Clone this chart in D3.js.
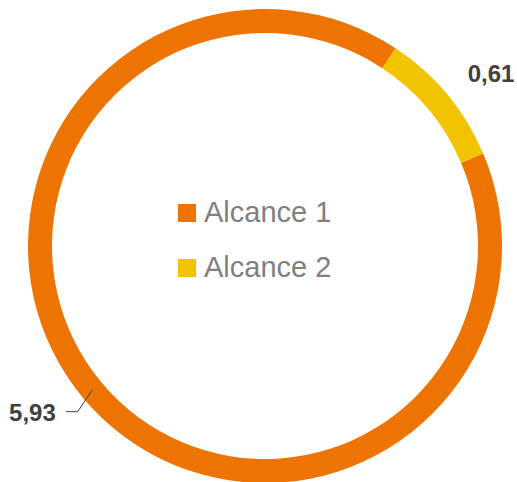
<!DOCTYPE html>
<html>
<head>
<meta charset="utf-8">
<script src="https://cdn.jsdelivr.net/npm/d3@7"></script>
<style>
  body { margin: 0; background: #fff; }
  svg { display: block; }
</style>
</head>
<body>
<div class="chart"></div>
<script>
const categories = ["Alcance 1", "Alcance 2"];
const values = [5.93, 0.61];
const labels = ["5,93", "0,61"];
const colors = ["#EE7402", "#F2C300"];

const width = 517, height = 482;
const cx = 265, cy = 246;
const outerR = 237, innerR = 213;

const svg = d3.select(".chart").append("svg")
  .attr("width", width)
  .attr("height", height);

const g = svg.append("g").attr("transform", `translate(${cx},${cy})`);

// first slice starts a bit past 2 o'clock
const start = 67 * Math.PI / 180;
const pie = d3.pie().sort(null).value(d => d)
  .startAngle(start).endAngle(start + 2 * Math.PI);
const arcs = pie(values);

const arc = d3.arc().innerRadius(innerR).outerRadius(outerR);

g.selectAll("path.slice").data(arcs).enter().append("path")
  .attr("class", "slice")
  .attr("d", arc)
  .attr("fill", (d, i) => colors[i]);

function polar(a, r) {
  return [Math.sin(a) * r, -Math.cos(a) * r];
}
const mid = d => (d.startAngle + d.endAngle) / 2;

// label for Alcance 1 with leader line
const a0 = arcs[0];
const p1 = polar(mid(a0), (innerR + outerR) / 2);
const p2 = polar(mid(a0) - 0.03, 250);
const p3 = [p2[0] - 12, p2[1]];
g.append("polyline")
  .attr("points", [p1, p2, p3].map(p => p.join(",")).join(" "))
  .attr("fill", "none")
  .attr("stroke", "#404040")
  .attr("stroke-width", 1);
g.append("text")
  .attr("x", p3[0] - 10)
  .attr("y", p3[1] + 9)
  .attr("text-anchor", "end")
  .attr("font-family", "Liberation Sans, Arial, sans-serif")
  .attr("font-weight", "bold")
  .attr("font-size", 24)
  .attr("fill", "#404040")
  .text(labels[0]);

// label for Alcance 2, no leader
const a1 = arcs[1];
const q = polar(mid(a1) + 0.04, 285);
g.append("text")
  .attr("x", q[0])
  .attr("y", q[1] + 9)
  .attr("text-anchor", "middle")
  .attr("font-family", "Liberation Sans, Arial, sans-serif")
  .attr("font-weight", "bold")
  .attr("font-size", 24)
  .attr("fill", "#404040")
  .text(labels[1]);

// legend in the middle
const legend = svg.append("g").attr("transform", "translate(178,204)");
const item = legend.selectAll("g").data(categories).enter().append("g")
  .attr("transform", (d, i) => `translate(0,${i * 55})`);
item.append("rect")
  .attr("width", 18).attr("height", 18)
  .attr("fill", (d, i) => colors[i]);
item.append("text")
  .attr("x", 26)
  .attr("y", 17.5)
  .attr("font-family", "Liberation Sans, Arial, sans-serif")
  .attr("font-size", 29)
  .attr("fill", "#7f7f7f")
  .text(d => d);
</script>
</body>
</html>
